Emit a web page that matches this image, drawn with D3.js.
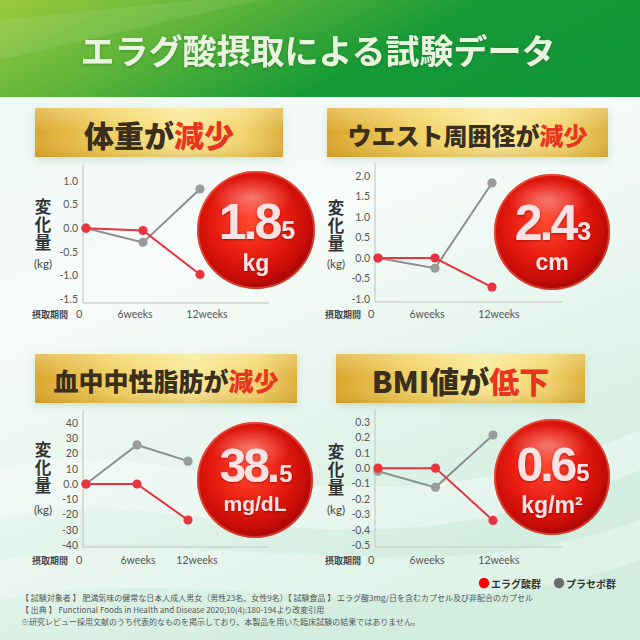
<!DOCTYPE html>
<html>
<head>
<meta charset="utf-8">
<script src="https://d3js.org/d3.v7.min.js"></script>
<style>
  body { margin: 0; }
  svg { font-family: "Noto Sans CJK JP", "Noto Sans", sans-serif; display: block; }
  .tick text { fill: #555; font-family: Lato, "Noto Sans", sans-serif; font-size: 10.5px; }
</style>
</head>
<body>
<div id="chart"></div>
<script>
// ---- data ----
var weeks = ["0", "6weeks", "12weeks"];

var weightEllagic = [0, -0.05, -0.98];
var weightPlacebo = [0, -0.30, 0.83];
var weightTicks = [1.0, 0.5, 0.0, -0.5, -1.0, -1.5];

var waistEllagic = [0, 0, -0.71];
var waistPlacebo = [0, -0.25, 1.83];
var waistTicks = [2.0, 1.5, 1.0, 0.5, 0.0, -0.5, -1.0];

var tgEllagic = [0, 0, -23.6];
var tgPlacebo = [0, 25.6, 15];
var tgTicks = [40, 30, 20, 10, 0, -10, -20, -30, -40];

var bmiEllagic = [0, 0, -0.34];
var bmiPlacebo = [-0.02, -0.125, 0.215];
var bmiTicks = [0.3, 0.2, 0.1, 0.0, -0.1, -0.2, -0.3, -0.4, -0.5];

var titles = [
  [["体重が", "dark"], ["減少", "red"]],
  [["ウエスト周囲径が", "dark"], ["減少", "red"]],
  [["血中中性脂肪が", "dark"], ["減少", "red"]],
  [["BMI値が", "dark"], ["低下", "red"]]
];
var bigValues = ["1.8", "2.4", "38.", "0.6"];
var smallValues = ["5", "3", "5", "5"];
var units = ["kg", "cm", "mg/dL", "kg/m²"];
var seriesNames = ["エラグ酸群", "プラセボ群"];

var fix1 = function(d) { return d.toFixed(1); };
var tgFmt = function(d) { return d === 0 ? "0.0" : String(d); };

var panels = [
  { ellagic: weightEllagic, placebo: weightPlacebo, ticks: weightTicks, fmt: fix1 },
  { ellagic: waistEllagic, placebo: waistPlacebo, ticks: waistTicks, fmt: fix1 },
  { ellagic: tgEllagic, placebo: tgPlacebo, ticks: tgTicks, fmt: tgFmt },
  { ellagic: bmiEllagic, placebo: bmiPlacebo, ticks: bmiTicks, fmt: fix1 }
];

// ---- layout ----
var layout = [
  { bx: 35, by: 108, bw: 248, bh: 49, bfs: 30,
    ax: 83, top: 165, bottom: 303, right: 269, yr: [299, 181], px: [86, 200],
    lx: [76, 135, 207], ly: 318, perX: 32, ylx: 43, yly: 198, kgy: 268,
    cx: 256, cy: 230, r: 59, nfs: 50, ny: 239, uy: 271 },
  { bx: 327, by: 108, bw: 281, bh: 49, bfs: 24,
    ax: 375, top: 163, bottom: 302, right: 562, yr: [299, 176], px: [378, 492],
    lx: [368, 427, 499], ly: 318, perX: 325, ylx: 336, yly: 199, kgy: 268,
    cx: 552, cy: 232, r: 58, nfs: 50, ny: 240, uy: 270 },
  { bx: 35, by: 354, bw: 262, bh: 49, bfs: 25,
    ax: 83, top: 410, bottom: 547, right: 269, yr: [545, 423], px: [86, 188],
    lx: [76, 138, 197], ly: 564, perX: 32, ylx: 43, yly: 441, kgy: 514,
    cx: 255, cy: 480, r: 58, nfs: 48, ny: 482, uy: 511 },
  { bx: 336, by: 354, bw: 249, bh: 49, bfs: 30,
    ax: 375, top: 410, bottom: 547, right: 562, yr: [545, 422], px: [378, 493],
    lx: [368, 427, 499], ly: 564, perX: 325, ylx: 336, yly: 443, kgy: 514,
    cx: 552, cy: 477, r: 58, nfs: 48, ny: 481, uy: 513 }
];

var colors = { ellagic: "#ea3340", placebo: "#8f8f8f", dark: "#3a2f1c", red: "#e8351f" };

var width = 640, height = 640;
var svg = d3.select("#chart").append("svg")
  .attr("width", width).attr("height", height);

var defs = svg.append("defs");

/* gradients */
var bg = defs.append("linearGradient").attr("id", "bg")
  .attr("x1", "0").attr("y1", "0").attr("x2", "0.4").attr("y2", "1");
bg.append("stop").attr("offset", "0").attr("stop-color", "#e9f6f1");
bg.append("stop").attr("offset", "0.45").attr("stop-color", "#f8fcfa");
bg.append("stop").attr("offset", "1").attr("stop-color", "#d3eee0");

var head = defs.append("linearGradient").attr("id", "head")
  .attr("x1", "0").attr("y1", "0").attr("x2", "1").attr("y2", "0.3");
head.append("stop").attr("offset", "0").attr("stop-color", "#9bca3e");
head.append("stop").attr("offset", "0.35").attr("stop-color", "#5db43a");
head.append("stop").attr("offset", "0.7").attr("stop-color", "#169a36");
head.append("stop").attr("offset", "1").attr("stop-color", "#12963a");

var gold = defs.append("linearGradient").attr("id", "gold")
  .attr("x1", "0").attr("y1", "0").attr("x2", "1").attr("y2", "0");
gold.append("stop").attr("offset", "0").attr("stop-color", "#d9a52c");
gold.append("stop").attr("offset", "0.3").attr("stop-color", "#f0cf5e");
gold.append("stop").attr("offset", "0.6").attr("stop-color", "#faea9a");
gold.append("stop").attr("offset", "0.85").attr("stop-color", "#f1d46c");
gold.append("stop").attr("offset", "1").attr("stop-color", "#dcae3c");

var goldV = defs.append("linearGradient").attr("id", "goldV")
  .attr("x1", "0").attr("y1", "0").attr("x2", "0").attr("y2", "1");
goldV.append("stop").attr("offset", "0").attr("stop-color", "#fff6c8").attr("stop-opacity", 0.35);
goldV.append("stop").attr("offset", "0.5").attr("stop-color", "#fff6c8").attr("stop-opacity", 0);
goldV.append("stop").attr("offset", "1").attr("stop-color", "#b07a10").attr("stop-opacity", 0.25);

var ball = defs.append("radialGradient").attr("id", "ball")
  .attr("cx", "0.45").attr("cy", "0.42").attr("r", "0.6");
ball.append("stop").attr("offset", "0").attr("stop-color", "#ff4a30");
ball.append("stop").attr("offset", "0.5").attr("stop-color", "#e91c10");
ball.append("stop").attr("offset", "0.82").attr("stop-color", "#c80d08");
ball.append("stop").attr("offset", "1").attr("stop-color", "#a00606");

var shine = defs.append("radialGradient").attr("id", "shine")
  .attr("cx", "0.5").attr("cy", "0.5").attr("r", "0.5");
shine.append("stop").attr("offset", "0").attr("stop-color", "#fff").attr("stop-opacity", 0.35);
shine.append("stop").attr("offset", "1").attr("stop-color", "#fff").attr("stop-opacity", 0);

var shadow = defs.append("filter").attr("id", "shadow")
  .attr("x", "-20%").attr("y", "-30%").attr("width", "140%").attr("height", "170%");
shadow.append("feDropShadow").attr("dx", 0).attr("dy", 3).attr("stdDeviation", 4)
  .attr("flood-color", "#7fb79a").attr("flood-opacity", 0.35);

var txtShadow = defs.append("filter").attr("id", "txtShadow");
txtShadow.append("feDropShadow").attr("dx", 0).attr("dy", 1).attr("stdDeviation", 1)
  .attr("flood-color", "#7a0000").attr("flood-opacity", 0.6);

var headShadow = defs.append("filter").attr("id", "headShadow");
headShadow.append("feDropShadow").attr("dx", 0).attr("dy", 1).attr("stdDeviation", 1.5)
  .attr("flood-color", "#1d5e20").attr("flood-opacity", 0.5);

/* background */
svg.append("rect").attr("width", width).attr("height", height).attr("fill", "url(#bg)");
svg.append("path")
  .attr("d", "M0,470 C160,420 330,560 640,430 L640,470 C330,600 160,470 0,520 Z")
  .attr("fill", "#ffffff").attr("opacity", 0.35);
svg.append("path")
  .attr("d", "M0,560 C200,520 420,600 640,520 L640,560 C420,640 200,560 0,600 Z")
  .attr("fill", "#ffffff").attr("opacity", 0.3);

/* header */
svg.append("rect").attr("width", width).attr("height", 97).attr("fill", "url(#head)");
svg.append("path").attr("d", "M0,20 L200,0 L260,0 L0,60 Z").attr("fill", "#ffffff").attr("opacity", 0.08);
svg.append("text")
  .attr("x", 318).attr("y", 49)
  .attr("text-anchor", "middle").attr("dominant-baseline", "central")
  .attr("font-size", 34).attr("font-weight", 700)
  .attr("fill", "#e8f4de").attr("filter", "url(#headShadow)")
  .text("エラグ酸摂取による試験データ");

/* panels */
panels.forEach(function(p, i) {
  var L = layout[i];
  var g = svg.append("g").attr("class", "panel");

  // banner
  g.append("rect").attr("x", L.bx).attr("y", L.by).attr("width", L.bw).attr("height", L.bh)
    .attr("fill", "url(#gold)").attr("filter", "url(#shadow)");
  g.append("rect").attr("x", L.bx).attr("y", L.by).attr("width", L.bw).attr("height", L.bh)
    .attr("fill", "url(#goldV)");
  var title = g.append("text")
    .attr("x", L.bx + L.bw / 2).attr("y", L.by + L.bh / 2 + 1)
    .attr("text-anchor", "middle").attr("dominant-baseline", "central")
    .attr("font-size", L.bfs).attr("font-weight", 900);
  titles[i].forEach(function(part) {
    title.append("tspan").attr("fill", colors[part[1]]).text(part[0]);
  });

  // scales
  var y = d3.scaleLinear()
    .domain(d3.extent(p.ticks))
    .range(L.yr);
  var x = d3.scalePoint().domain(weeks).range(L.px);

  // axis lines
  g.append("line").attr("x1", L.ax).attr("x2", L.ax).attr("y1", L.top).attr("y2", L.bottom)
    .attr("stroke", "#cfd3d1").attr("stroke-width", 1.5);
  g.append("line").attr("x1", L.ax).attr("x2", L.right).attr("y1", L.bottom).attr("y2", L.bottom)
    .attr("stroke", "#cfd3d1").attr("stroke-width", 1.5);

  // y ticks
  var yAxis = d3.axisLeft(y).tickValues(p.ticks).tickFormat(p.fmt).tickSize(0).tickPadding(5);
  g.append("g").attr("transform", "translate(" + L.ax + ",0)")
    .call(yAxis)
    .call(function(a) { a.select(".domain").remove(); });

  // x labels
  g.append("text").attr("x", L.perX).attr("y", L.ly)
    .attr("font-size", 9).attr("font-weight", 700).attr("fill", "#444")
    .text("摂取期間");
  weeks.forEach(function(w, j) {
    g.append("text").attr("x", L.lx[j]).attr("y", L.ly)
      .attr("text-anchor", j === 0 ? "start" : "middle")
      .attr("font-family", "Lato, 'Noto Sans', sans-serif")
      .attr("font-size", j === 0 ? 11 : 10.5).attr("fill", "#555")
      .text(w);
  });

  // y label, written vertically
  g.append("text").attr("x", L.ylx).attr("y", L.yly)
    .attr("writing-mode", "tb").style("writing-mode", "vertical-rl")
    .attr("font-size", 16.5).attr("font-weight", 700).attr("fill", "#333")
    .attr("letter-spacing", 1.5)
    .text("変化量");
  g.append("text").attr("x", L.ylx).attr("y", L.kgy)
    .attr("text-anchor", "middle")
    .attr("font-family", "Lato, 'Noto Sans', sans-serif")
    .attr("font-size", 11.5).attr("fill", "#444")
    .text("(kg)");

  // lines
  var line = d3.line().x(function(d, j) { return x(weeks[j]); }).y(function(d) { return y(d); });
  [["placebo", p.placebo], ["ellagic", p.ellagic]].forEach(function(s) {
    g.append("path").datum(s[1]).attr("d", line)
      .attr("fill", "none").attr("stroke", colors[s[0]]).attr("stroke-width", 2);
    g.selectAll(null).data(s[1]).enter().append("circle")
      .attr("cx", function(d, j) { return x(weeks[j]); })
      .attr("cy", function(d) { return y(d); })
      .attr("r", 4.6)
      .attr("fill", s[0] === "placebo" ? "#9a9a9a" : colors.ellagic);
  });

  // ball
  g.append("circle").attr("cx", L.cx).attr("cy", L.cy).attr("r", L.r)
    .attr("fill", "url(#ball)");
  g.append("circle").attr("cx", L.cx).attr("cy", L.cy).attr("r", L.r - 1)
    .attr("fill", "none").attr("stroke", "#ff7a5a").attr("stroke-opacity", 0.45).attr("stroke-width", 2);
  g.append("ellipse").attr("cx", L.cx - 4).attr("cy", L.cy - L.r * 0.55)
    .attr("rx", L.r * 0.7).attr("ry", L.r * 0.35).attr("fill", "url(#shine)");

  var num = g.append("text").attr("x", L.cx + 1).attr("y", L.ny)
    .attr("text-anchor", "middle")
    .attr("font-family", "'Liberation Sans', Arial, sans-serif").attr("font-weight", 700)
    .attr("fill", "#fbe2e2").attr("filter", "url(#txtShadow)");
  num.append("tspan").attr("font-size", L.nfs).attr("letter-spacing", -3).text(bigValues[i]);
  num.append("tspan").attr("font-size", L.nfs * 0.5).attr("dx", 2).attr("letter-spacing", 0).text(smallValues[i]);

  g.append("text").attr("x", L.cx).attr("y", L.uy)
    .attr("text-anchor", "middle")
    .attr("font-family", "'Liberation Sans', Arial, sans-serif").attr("font-weight", 700)
    .attr("font-size", i === 2 ? 21 : 23).attr("fill", "#fbe2e2").attr("filter", "url(#txtShadow)")
    .text(units[i]);
});

/* legend */
var legend = svg.append("g");
var legendX = [484, 559];
seriesNames.forEach(function(n, i) {
  legend.append("circle").attr("cx", legendX[i]).attr("cy", 583).attr("r", 5.2)
    .attr("fill", i === 0 ? "#ff0000" : "#6b6b6b");
  legend.append("text").attr("x", legendX[i] + 7).attr("y", 583)
    .attr("dominant-baseline", "central")
    .attr("font-size", 10).attr("font-weight", 700).attr("fill", "#333")
    .text(n);
});

/* notes */
var notes = [
  "【 試験対象者 】 肥満気味の健常な日本人成人男女（男性23名、女性9名）【 試験食品 】 エラグ酸3mg/日を含むカプセル及び非配合のカプセル",
  "【 出典 】 Functional Foods in Health and Disease 2020;10(4):180-194より改変引用",
  "※研究レビュー採用文献のうち代表的なものを掲示しており、本製品を用いた臨床試験の結果ではありません。"
];
svg.selectAll(".note").data(notes).enter().append("text")
  .attr("class", "note")
  .attr("x", 21).attr("y", function(d, i) { return 601 + i * 11.8; })
  .attr("font-size", 8).attr("fill", "#555")
  .text(function(d) { return d; });
</script>
</body>
</html>
